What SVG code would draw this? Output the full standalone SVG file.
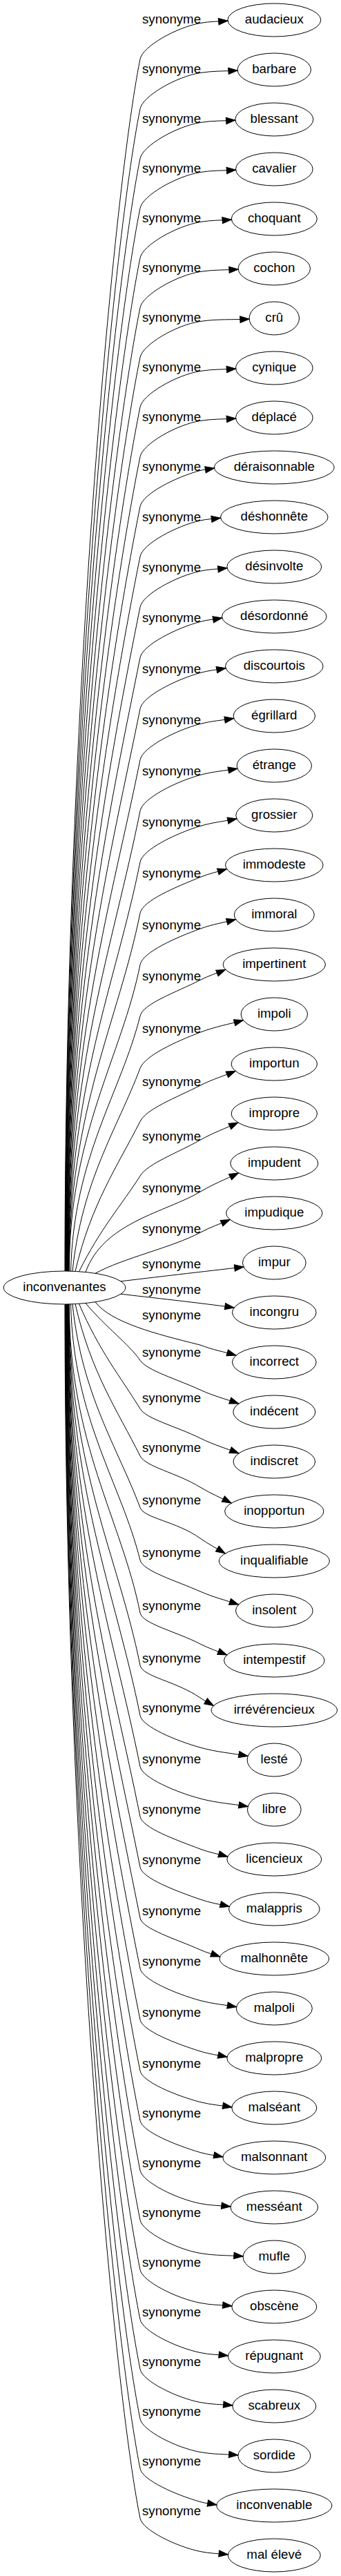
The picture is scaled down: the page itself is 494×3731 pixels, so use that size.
<svg xmlns="http://www.w3.org/2000/svg" width="494" height="3731" viewBox="0 0 494 3731">
<style>
.n ellipse{fill:none;stroke:#000;stroke-width:1}
.n text,.e text{font-family:"Liberation Sans",Arial,sans-serif;font-size:18.67px;text-anchor:middle;fill:#000}
.e path{fill:none;stroke:#000;stroke-width:1;marker-end:url(#ah)}
</style>
<defs>
<marker id="ah" viewBox="-1 -1 16 12" markerWidth="16" markerHeight="12" refX="13.3" refY="5" orient="auto" markerUnits="userSpaceOnUse"><path d="M0,0.33 L13.3,5 L0,9.67 z" fill="#000" stroke="#000" stroke-width="1"/></marker>
</defs>
<rect width="494" height="3731" fill="#fff"/>
<g id="connectors">
<g class="e"><path d="M94,1841 C94,1051 163,285.5 203,85.5 c3.6,-18.2 52,-45.5 87,-52 c14,-2.6 25.9,-2.2 39.9,-3.4"/><text x="248.5" y="34">synonyme</text></g>
<g class="e"><path d="M94.4,1841 C94.4,1083.4 163,357.5 203,157.5 c3.6,-18.2 52,-46.3 87,-52 c19,-3.1 35.2,-2.2 54.2,-3.4"/><text x="248.5" y="106">synonyme</text></g>
<g class="e"><path d="M94.7,1841 C94.7,1115.8 163,429.5 203,229.5 c3.6,-18.2 52,-46.2 87,-52 c17.8,-3 33.1,-2.2 50.9,-3.4"/><text x="248.5" y="178">synonyme</text></g>
<g class="e"><path d="M95.1,1841 C95.1,1148.2 163,501.5 203,301.5 c3.6,-18.2 52,-46.2 87,-52 c18.1,-3 33.5,-2.2 51.6,-3.4"/><text x="248.5" y="250">synonyme</text></g>
<g class="e"><path d="M95.4,1841 C95.4,1180.6 163,573.5 203,373.5 c3.6,-18.2 52,-45.9 87,-52 c15.9,-2.8 29.5,-2.2 45.4,-3.4"/><text x="248.5" y="322">synonyme</text></g>
<g class="e"><path d="M95.8,1841 C95.8,1213 163,645.5 203,445.5 c3.6,-18.2 52,-46.3 87,-52 c19.3,-3.1 35.9,-2.2 55.2,-3.4"/><text x="248.5" y="394">synonyme</text></g>
<g class="e"><path d="M96.1,1841 C96.1,1245.4 163,717.5 203,517.5 c3.6,-18.2 52,-46.8 87,-52 c24.9,-3.7 46.2,-2.2 71.1,-3.4"/><text x="248.5" y="466">synonyme</text></g>
<g class="e"><path d="M96.5,1841 C96.5,1277.8 163,789.5 203,589.5 c3.6,-18.2 52,-46.2 87,-52 c18.1,-3 33.5,-2.2 51.6,-3.4"/><text x="248.5" y="538">synonyme</text></g>
<g class="e"><path d="M96.8,1841 C96.8,1310.2 163,861.5 203,661.5 c3.6,-18.2 52,-46.2 87,-52 c18.1,-3 33.5,-2.2 51.6,-3.4"/><text x="248.5" y="610">synonyme</text></g>
<g class="e"><path d="M97.2,1841 C97.2,1342.6 163,933.5 203,733.5 c3.6,-18.2 52,-42.7 87,-52 c7.2,-1.9 13.4,-2.2 20.6,-3.4"/><text x="248.5" y="682">synonyme</text></g>
<g class="e"><path d="M97.5,1841 C97.5,1375.3 163,1006 203,806 c3.6,-18.2 52,-44.1 87,-52 c10.4,-2.4 19.2,-2.4 29.6,-3.75"/><text x="248.5" y="754.5">synonyme</text></g>
<g class="e"><path d="M97.9,1841 C97.9,1408.2 163,1079.2 203,879.2 c3.6,-18.2 52,-44.4 87,-52 c13.7,-3 25.4,-2.9 39,-4.5"/><text x="248.5" y="827.7">synonyme</text></g>
<g class="e"><path d="M98.2,1841 C98.2,1441.2 163,1152.5 203,952.5 c3.6,-18.2 52,-42.6 87,-52 c11.1,-3 20.7,-3.5 31.8,-5.4"/><text x="248.5" y="901">synonyme</text></g>
<g class="e"><path d="M98.6,1841 C98.6,1474.5 163,1226.5 203,1026.5 c3.6,-18.2 52,-42.2 87,-52 c13,-3.6 24.1,-4.4 37,-6.7"/><text x="248.5" y="975">synonyme</text></g>
<g class="e"><path d="M98.9,1841 C98.9,1507.8 163,1300.5 203,1100.5 c3.6,-18.2 52,-42.8 87,-52 c17,-4.5 31.7,-5.2 48.7,-8"/><text x="248.5" y="1049">synonyme</text></g>
<g class="e"><path d="M99.3,1841 C99.3,1541.1 163,1374.5 203,1174.5 c3.6,-18.2 52,-42.5 87,-52 c18.9,-5.2 35,-6 53.9,-9.3"/><text x="248.5" y="1123">synonyme</text></g>
<g class="e"><path d="M99.6,1841 C99.6,1574.4 167.4,1426.3 203,1248.5 c3.6,-18.2 52,-41.5 87,-52 c18.6,-5.6 34.5,-6.9 53,-10.6"/><text x="248.5" y="1197">synonyme</text></g>
<g class="e"><path d="M100,1841 C100,1607.7 171.9,1478.1 203,1322.5 c3.6,-18.2 52,-37.7 87,-52 c13.5,-5.5 25,-7.7 38.5,-11.9"/><text x="248.5" y="1271">synonyme</text></g>
<g class="e"><path d="M100.3,1841 C100.3,1641.3 176.4,1530.3 203,1397.2 c3.6,-18.2 52,-39.3 87,-52 c18,-6.6 33.5,-8.8 51.5,-13.6"/><text x="248.5" y="1345.7">synonyme</text></g>
<g class="e"><path d="M102.5,1841.1 C106.6,1674.8 175.3,1582.4 203,1471.5 c4.6,-18.2 52,-34.1 87,-52 c12.9,-6.6 23.9,-9.8 36.7,-15.1"/><text x="248.5" y="1420">synonyme</text></g>
<g class="e"><path d="M105,1841.2 C118.8,1708.9 169.7,1635.4 203,1547.2 c6.9,-18.2 52,-38.7 87,-52 c21.8,-8.3 40.6,-11.4 62.4,-17.5"/><text x="248.5" y="1495.7">synonyme</text></g>
<g class="e"><path d="M109,1841.4 C131.9,1743.7 170.1,1689.4 203,1624.2 c9.2,-18.2 52,-34.3 87,-52 c17.9,-9.1 33.3,-13.5 51.2,-20.8"/><text x="248.5" y="1572.7">synonyme</text></g>
<g class="e"><path d="M114.5,1841.7 C145.4,1779.4 176.5,1744.8 203,1703.2 c11.6,-18.2 52,-32.4 87,-52 c19.2,-10.8 35.7,-16.4 54.9,-25.3"/><text x="248.5" y="1651.7">synonyme</text></g>
<g class="e"><path d="M124,1842.5 C150,1770 240,1755.8 290,1726.2 C309.4,1714.7 326.1,1708.4 345.5,1698.9"/><text x="248.5" y="1726.7">synonyme</text></g>
<g class="e"><path d="M138,1844.3 C178,1822.3 250,1806.6 290,1785.2 C305.1,1777.1 318.1,1773 333.2,1766.4"/><text x="248.5" y="1785.7">synonyme</text></g>
<g class="e"><path d="M175,1855.8 C215,1851 300,1841 353,1835"/><text x="248.5" y="1837">synonyme</text></g>
<g class="e"><path d="M175,1874.2 C215,1879 290,1887 339.1,1894"/><text x="248.5" y="1874.3">synonyme</text></g>
<g class="e"><path d="M138,1885.7 C160,1915 225,1932 290,1948 C308.2,1955.1 323.8,1957.7 342,1963"/><text x="248.5" y="1911.1">synonyme</text></g>
<g class="e"><path d="M124,1887.5 C155.6,1924.8 185.6,1945.5 203,1970.3 c10.4,14.9 52,26.7 87,42.7 c19.5,9 36.3,13 55.8,20"/><text x="248.5" y="1965.3">synonyme</text></g>
<g class="e"><path d="M114.5,1888.3 C143.7,1956.7 175,1994.8 203,2040.4 c9.1,14.9 52,25.3 87,42.6 c19.6,9.7 36.4,14.3 56,22"/><text x="248.5" y="2031.4">synonyme</text></g>
<g class="e"><path d="M109,1888.6 C131.6,1987.6 170,2042.7 203,2108.7 c8,15.9 52,24 87,45.3 c15.8,9.6 29.4,15 45.2,23"/><text x="248.5" y="2102.7">synonyme</text></g>
<g class="e"><path d="M105,1888.8 C118.8,2021.5 169.8,2095.2 203,2183.6 c5.8,15.5 52,19.6 87,44.4 c12.7,9 23.5,14.3 36.2,22"/><text x="248.5" y="2179.1">synonyme</text></g>
<g class="e"><path d="M102.5,1888.9 C106.4,2055.7 175.3,2148.4 203,2259.6 c4,15.9 52,29.9 87,45.4 c19.5,8.6 36.1,12.4 55.6,19"/><text x="248.5" y="2255.1">synonyme</text></g>
<g class="e"><path d="M100.3,1889 C100.3,2090.2 176.2,2201.9 203,2336 c3.2,15.8 52,27 87,45 c13.5,7 25.2,10.4 38.7,16"/><text x="248.5" y="2331.5">synonyme</text></g>
<g class="e"><path d="M100,1889 C100,2124.4 171.6,2255.1 203,2412 c3.3,16.5 52,22.8 87,47 c6.8,4.7 12.7,7.5 19.5,11.5"/><text x="248.5" y="2407.5">synonyme</text></g>
<g class="e"><path d="M99.6,1889 C99.6,2157.1 167.3,2306 203,2484.7 c3.2,16.2 52,36.5 87,46.3 c24.2,6.8 44.9,8.1 69.1,12.5"/><text x="248.5" y="2480.2">synonyme</text></g>
<g class="e"><path d="M99.3,1889 C99.3,2190.4 163,2358.7 203,2558.7 c3.2,16.2 52,37 87,46.3 c24.2,6.4 45,7.5 69.2,11.5"/><text x="248.5" y="2554.2">synonyme</text></g>
<g class="e"><path d="M98.9,1889 C98.9,2223 163,2431.2 203,2631.2 c3.3,16.4 52,33.6 87,46.8 c13.9,5.3 25.9,7.2 39.8,11"/><text x="248.5" y="2626.7">synonyme</text></g>
<g class="e"><path d="M98.6,1889 C98.6,2255.9 163,2504.4 203,2704.4 c3.3,16.3 52,34.4 87,46.6 c14.8,5.2 27.4,6.8 42.2,10.5"/><text x="248.5" y="2699.9">synonyme</text></g>
<g class="e"><path d="M98.2,1889 C98.2,2289 163,2578 203,2778 c3.2,16.1 52,30.3 87,46 c10,4.5 18.7,6.5 28.7,10"/><text x="248.5" y="2773.5">synonyme</text></g>
<g class="e"><path d="M97.9,1889 C97.9,2322 163,2651.2 203,2851.2 c3.2,16.2 52,36.7 87,46.3 c18.4,5 34.2,6 52.6,9.2"/><text x="248.5" y="2846.5">synonyme</text></g>
<g class="e"><path d="M97.5,1889 C97.5,2355.3 163,2725.3 203,2925.3 c3.2,16 52,34.7 87,45.7 c13.7,4.3 25.4,5.4 39,8.3"/><text x="248.5" y="2920.8">synonyme</text></g>
<g class="e"><path d="M97.2,1889 C97.2,2388.7 163,2799.4 203,2999.4 c3.2,15.8 52,36 87,45.1 c16.1,4.2 29.8,4.8 45.9,7.4"/><text x="248.5" y="2994.9">synonyme</text></g>
<g class="e"><path d="M96.8,1889 C96.8,2421.1 163,2871.5 203,3071.5 c3.2,16.1 52,35.7 87,46 c11.5,3.4 21.4,4.2 32.9,6.4"/><text x="248.5" y="3067">synonyme</text></g>
<g class="e"><path d="M96.5,1889 C96.5,2453.5 163,2943.5 203,3143.5 c3.4,16.8 52,41 87,48 c15.4,3.1 28.7,2.9 44.1,4.4"/><text x="248.5" y="3139">synonyme</text></g>
<g class="e"><path d="M96.1,1889 C96.1,2485.9 163,3015.5 203,3215.5 c3.4,16.8 52,42 87,48 c21.7,3.7 40.4,2.9 62.1,4.4"/><text x="248.5" y="3211">synonyme</text></g>
<g class="e"><path d="M95.8,1889 C95.8,2518.3 163,3087.5 203,3287.5 c3.4,16.8 52,41.1 87,48 c16.1,3.2 29.8,2.9 45.9,4.4"/><text x="248.5" y="3283">synonyme</text></g>
<g class="e"><path d="M95.4,1889 C95.4,2550.7 163,3159.5 203,3359.5 c3.4,16.8 52,40.7 87,48 c14.1,3 26.3,2.9 40.4,4.4"/><text x="248.5" y="3355">synonyme</text></g>
<g class="e"><path d="M95.1,1889 C95.1,2583.1 163,3231.5 203,3431.5 c3.4,16.8 52,41.2 87,48 c16.4,3.2 30.5,2.9 46.9,4.4"/><text x="248.5" y="3427">synonyme</text></g>
<g class="e"><path d="M94.7,1889 C94.7,2615.5 163,3303.5 203,3503.5 c3.4,16.8 52,41.7 87,48 c19.2,3.5 35.7,2.9 54.9,4.4"/><text x="248.5" y="3499">synonyme</text></g>
<g class="e"><path d="M94.4,1889 C94.4,2647.9 163,3375.5 203,3575.5 c3.4,16.8 52,38.1 87,48 c8.4,2.4 15.5,2.9 23.9,4.4"/><text x="248.5" y="3571">synonyme</text></g>
<g class="e"><path d="M94,1889 C94,2680.3 163,3447.5 203,3647.5 c3.4,16.8 52,40.7 87,48 c14.1,3 26.3,2.9 40.4,4.4"/><text x="248.5" y="3643">synonyme</text></g>
</g>
<g id="node-inconvenantes" class="n"><ellipse cx="93.5" cy="1865" rx="88.3" ry="24"/><text x="93.5" y="1870.3">inconvenantes</text></g>
<g id="node-0" class="n"><ellipse cx="397.3" cy="29" rx="67.5" ry="24"/><text x="397.3" y="34.3">audacieux</text></g>
<g id="node-1" class="n"><ellipse cx="397.3" cy="101" rx="53.2" ry="24"/><text x="397.3" y="106.3">barbare</text></g>
<g id="node-2" class="n"><ellipse cx="397.3" cy="173" rx="56.5" ry="24"/><text x="397.3" y="178.3">blessant</text></g>
<g id="node-3" class="n"><ellipse cx="397.3" cy="245" rx="55.8" ry="24"/><text x="397.3" y="250.3">cavalier</text></g>
<g id="node-4" class="n"><ellipse cx="397.3" cy="317" rx="62" ry="24"/><text x="397.3" y="322.3">choquant</text></g>
<g id="node-5" class="n"><ellipse cx="397.3" cy="389" rx="52.2" ry="24"/><text x="397.3" y="394.3">cochon</text></g>
<g id="node-6" class="n"><ellipse cx="397.3" cy="461" rx="36.2" ry="24"/><text x="397.3" y="466.3">crû</text></g>
<g id="node-7" class="n"><ellipse cx="397.3" cy="533" rx="55.8" ry="24"/><text x="397.3" y="538.3">cynique</text></g>
<g id="node-8" class="n"><ellipse cx="397.3" cy="605" rx="55.8" ry="24"/><text x="397.3" y="610.3">déplacé</text></g>
<g id="node-9" class="n"><ellipse cx="397.3" cy="677" rx="86.8" ry="24"/><text x="397.3" y="682.3">déraisonnable</text></g>
<g id="node-10" class="n"><ellipse cx="397.3" cy="749" rx="77.8" ry="24"/><text x="397.3" y="754.3">déshonnête</text></g>
<g id="node-11" class="n"><ellipse cx="397.3" cy="821" rx="68.5" ry="24"/><text x="397.3" y="826.3">désinvolte</text></g>
<g id="node-12" class="n"><ellipse cx="397.3" cy="893" rx="75.8" ry="24"/><text x="397.3" y="898.3">désordonné</text></g>
<g id="node-13" class="n"><ellipse cx="397.3" cy="965" rx="70.8" ry="24"/><text x="397.3" y="970.3">discourtois</text></g>
<g id="node-14" class="n"><ellipse cx="397.3" cy="1037" rx="59.2" ry="24"/><text x="397.3" y="1042.3">égrillard</text></g>
<g id="node-15" class="n"><ellipse cx="397.3" cy="1109" rx="54.2" ry="24"/><text x="397.3" y="1114.3">étrange</text></g>
<g id="node-16" class="n"><ellipse cx="397.3" cy="1181" rx="55.5" ry="24"/><text x="397.3" y="1186.3">grossier</text></g>
<g id="node-17" class="n"><ellipse cx="397.3" cy="1253" rx="70.8" ry="24"/><text x="397.3" y="1258.3">immodeste</text></g>
<g id="node-18" class="n"><ellipse cx="397.3" cy="1325" rx="58" ry="24"/><text x="397.3" y="1330.3">immoral</text></g>
<g id="node-19" class="n"><ellipse cx="397.3" cy="1397" rx="74.2" ry="24"/><text x="397.3" y="1402.3">impertinent</text></g>
<g id="node-20" class="n"><ellipse cx="397.3" cy="1469" rx="48.2" ry="24"/><text x="397.3" y="1474.3">impoli</text></g>
<g id="node-21" class="n"><ellipse cx="397.3" cy="1541" rx="62.2" ry="24"/><text x="397.3" y="1546.3">importun</text></g>
<g id="node-22" class="n"><ellipse cx="397.3" cy="1613" rx="62.2" ry="24"/><text x="397.3" y="1618.3">impropre</text></g>
<g id="node-23" class="n"><ellipse cx="397.3" cy="1685" rx="63.5" ry="24"/><text x="397.3" y="1690.3">impudent</text></g>
<g id="node-24" class="n"><ellipse cx="397.3" cy="1757" rx="69.7" ry="24"/><text x="397.3" y="1762.3">impudique</text></g>
<g id="node-25" class="n"><ellipse cx="397.3" cy="1829" rx="45.8" ry="24"/><text x="397.3" y="1834.3">impur</text></g>
<g id="node-26" class="n"><ellipse cx="397.3" cy="1901" rx="60.8" ry="24"/><text x="397.3" y="1906.3">incongru</text></g>
<g id="node-27" class="n"><ellipse cx="397.3" cy="1973" rx="60.8" ry="24"/><text x="397.3" y="1978.3">incorrect</text></g>
<g id="node-28" class="n"><ellipse cx="397.3" cy="2045" rx="59.5" ry="24"/><text x="397.3" y="2050.3">indécent</text></g>
<g id="node-29" class="n"><ellipse cx="397.3" cy="2117" rx="59.3" ry="24"/><text x="397.3" y="2122.3">indiscret</text></g>
<g id="node-30" class="n"><ellipse cx="397.3" cy="2189" rx="71.7" ry="24"/><text x="397.3" y="2194.3">inopportun</text></g>
<g id="node-31" class="n"><ellipse cx="397.3" cy="2261" rx="80" ry="24"/><text x="397.3" y="2266.3">inqualifiable</text></g>
<g id="node-32" class="n"><ellipse cx="397.3" cy="2333" rx="55.8" ry="24"/><text x="397.3" y="2338.3">insolent</text></g>
<g id="node-33" class="n"><ellipse cx="397.3" cy="2405" rx="72.8" ry="24"/><text x="397.3" y="2410.3">intempestif</text></g>
<g id="node-34" class="n"><ellipse cx="397.3" cy="2477" rx="91.2" ry="24"/><text x="397.3" y="2482.3">irrévérencieux</text></g>
<g id="node-35" class="n"><ellipse cx="397.3" cy="2549" rx="39.2" ry="24"/><text x="397.3" y="2554.3">lesté</text></g>
<g id="node-36" class="n"><ellipse cx="397.3" cy="2621" rx="38.8" ry="24"/><text x="397.3" y="2626.3">libre</text></g>
<g id="node-37" class="n"><ellipse cx="397.3" cy="2693" rx="68.5" ry="24"/><text x="397.3" y="2698.3">licencieux</text></g>
<g id="node-38" class="n"><ellipse cx="397.3" cy="2765" rx="65.8" ry="24"/><text x="397.3" y="2770.3">malappris</text></g>
<g id="node-39" class="n"><ellipse cx="397.3" cy="2837" rx="79.2" ry="24"/><text x="397.3" y="2842.3">malhonnête</text></g>
<g id="node-40" class="n"><ellipse cx="397.3" cy="2909" rx="55" ry="24"/><text x="397.3" y="2914.3">malpoli</text></g>
<g id="node-41" class="n"><ellipse cx="397.3" cy="2981" rx="68.5" ry="24"/><text x="397.3" y="2986.3">malpropre</text></g>
<g id="node-42" class="n"><ellipse cx="397.3" cy="3053" rx="61.5" ry="24"/><text x="397.3" y="3058.3">malséant</text></g>
<g id="node-43" class="n"><ellipse cx="397.3" cy="3125" rx="74.5" ry="24"/><text x="397.3" y="3130.3">malsonnant</text></g>
<g id="node-44" class="n"><ellipse cx="397.3" cy="3197" rx="63.3" ry="24"/><text x="397.3" y="3202.3">messéant</text></g>
<g id="node-45" class="n"><ellipse cx="397.3" cy="3269" rx="45.2" ry="24"/><text x="397.3" y="3274.3">mufle</text></g>
<g id="node-46" class="n"><ellipse cx="397.3" cy="3341" rx="61.5" ry="24"/><text x="397.3" y="3346.3">obscène</text></g>
<g id="node-47" class="n"><ellipse cx="397.3" cy="3413" rx="67" ry="24"/><text x="397.3" y="3418.3">répugnant</text></g>
<g id="node-48" class="n"><ellipse cx="397.3" cy="3485" rx="60.5" ry="24"/><text x="397.3" y="3490.3">scabreux</text></g>
<g id="node-49" class="n"><ellipse cx="397.3" cy="3557" rx="52.5" ry="24"/><text x="397.3" y="3562.3">sordide</text></g>
<g id="node-50" class="n"><ellipse cx="397.3" cy="3629" rx="83.5" ry="24"/><text x="397.3" y="3634.3">inconvenable</text></g>
<g id="node-51" class="n"><ellipse cx="397.3" cy="3701" rx="67" ry="24"/><text x="397.3" y="3706.3">mal élevé</text></g>
</svg>
